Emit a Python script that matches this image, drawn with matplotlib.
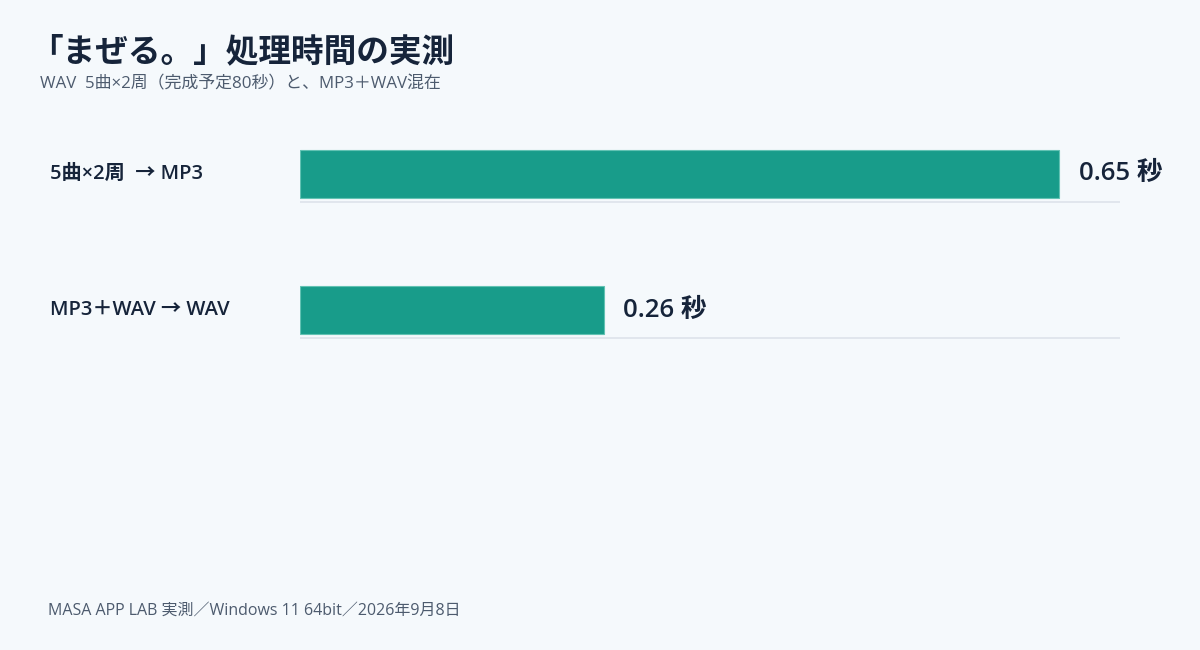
import matplotlib
matplotlib.use("Agg")
import matplotlib.pyplot as plt

plt.rcParams["font.family"] = ["Open Sans", "Noto Sans CJK JP", "DejaVu Sans"]

# data
categories = ["5曲×2周  → MP3", "MP3＋WAV → WAV"]
seconds = [0.65, 0.26]
value_labels = ["0.65 秒", "0.26 秒"]

title = "「まぜる。」処理時間の実測"
subtitle = "WAV  5曲×2周（完成予定80秒）と、MP3＋WAV混在"
footer = "MASA APP LAB 実測／Windows 11 64bit／2026年9月8日"

BG = "#f5f9fc"
BAR = "#189c8a"
DARK = "#16243a"
GREY = "#4d5b6e"

fig = plt.figure(figsize=(12, 6.5), dpi=100, facecolor=BG)
ax = fig.add_axes([0.25, 0.4185, 0.6833, 0.4185])
ax.set_facecolor(BG)

xmax = max(seconds) * 1.08
ypos = list(range(len(categories)))
bar_h = 0.35

ax.hlines([y + bar_h / 2 + 0.03 for y in ypos], 0, xmax, color="#dde3ea", lw=1.2, zorder=1)
bars = ax.barh(ypos, seconds, height=bar_h, color=BAR, edgecolor="#62c2b3", linewidth=0.8, zorder=2)

for b, lab in zip(bars, value_labels):
    ax.annotate(lab, (b.get_width(), b.get_y() + b.get_height() / 2),
                xytext=(14, 0), textcoords="offset points",
                va="center", ha="left", fontsize=18.5, color=DARK, fontweight="semibold")

for y, c in zip(ypos, categories):
    fig.text(50 / 1200, 1 - (174 + 136 * y) / 650, c, ha="left", va="center",
             fontsize=14.5, color=DARK, fontweight="semibold")

ax.set_xlim(0, xmax)
ax.set_ylim(1.5, -0.5)
ax.axis("off")

fig.text(30 / 1200, 1 - 53 / 650, title, ha="left", va="center",
         fontsize=23.5, fontweight="bold", color=DARK)
fig.text(40 / 1200, 1 - 84 / 650, subtitle, ha="left", va="center",
         fontsize=12.2, color=GREY)
fig.text(48 / 1200, 1 - 611 / 650, footer, ha="left", va="center",
         fontsize=11.5, color=GREY)

fig.savefig("out.png", dpi=100, facecolor=BG)
